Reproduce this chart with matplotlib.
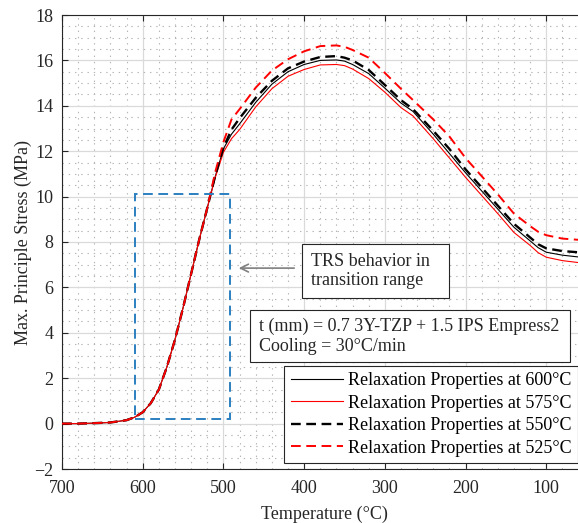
import matplotlib
matplotlib.use("Agg")
import matplotlib.pyplot as plt
from matplotlib.ticker import MultipleLocator
from matplotlib.patches import Rectangle

# temperature nodes (deg C), cooling from 700 down
temp = [700, 680, 660, 640, 620, 610, 600, 590, 580, 570, 560, 550, 540, 530,
        520, 510, 500, 490, 480, 460, 440, 420, 400, 380, 360, 350, 340, 320,
        300, 280, 265, 240, 220, 200, 180, 160, 140, 120, 110, 100, 80, 50]

# shared rise through the transition range (700 -> 520)
rise = [0.0, 0.0, 0.02, 0.05, 0.15, 0.28, 0.5, 0.9, 1.5, 2.5, 3.7, 5.1, 6.6, 8.1, 9.5]

stress_600 = rise + [10.9, 12.1, 12.75, 13.2, 14.15, 14.95, 15.5, 15.82, 16.0, 16.02,
                     15.97, 15.82, 15.42, 14.78, 14.12, 13.75, 12.75, 11.9, 11.05,
                     10.25, 9.45, 8.65, 8.05, 7.75, 7.55, 7.42, 7.3]
stress_575 = rise + [10.85, 11.95, 12.55, 12.95, 13.95, 14.75, 15.3, 15.6, 15.8, 15.82,
                     15.77, 15.62, 15.2, 14.6, 13.92, 13.55, 12.55, 11.7, 10.85,
                     10.05, 9.25, 8.42, 7.85, 7.53, 7.33, 7.18, 7.05]
stress_550 = rise + [10.95, 12.15, 12.95, 13.45, 14.35, 15.1, 15.65, 15.95, 16.15, 16.19,
                     16.12, 16.0, 15.58, 14.92, 14.25, 13.85, 12.9, 12.1, 11.2,
                     10.4, 9.6, 8.8, 8.2, 7.9, 7.72, 7.6, 7.52]
stress_525 = rise + [11.1, 12.4, 13.4, 13.85, 14.8, 15.55, 16.05, 16.4, 16.63, 16.66,
                     16.6, 16.46, 16.12, 15.45, 14.75, 14.25, 13.4, 12.65, 11.7,
                     10.9, 10.1, 9.25, 8.7, 8.45, 8.3, 8.15, 8.07]

labels = ["Relaxation Properties at 600°C", "Relaxation Properties at 575°C",
          "Relaxation Properties at 550°C", "Relaxation Properties at 525°C"]

x_ticks = [700, 600, 500, 400, 300, 200, 100]
y_ticks = [-2, 0, 2, 4, 6, 8, 10, 12, 14, 16, 18]

plt.rcParams["font.family"] = ["Liberation Serif", "DejaVu Serif"]
plt.rcParams["font.size"] = 13
plt.rcParams["lines.scale_dashes"] = False

axcol = "#262626"
fig = plt.figure(figsize=(5.78, 5.23), dpi=100)
ax = fig.add_axes([62 / 578, 1 - 469 / 523, 524.6 / 578, 454 / 523])

ax.plot(temp, stress_600, color="black", lw=0.8, label=labels[0], zorder=3)
ax.plot(temp, stress_575, color="red", lw=0.8, label=labels[1], zorder=3)
ax.plot(temp, stress_550, color="black", lw=1.7, dashes=(7, 4), label=labels[2], zorder=3)
ax.plot(temp, stress_525, color="red", lw=1.4, dashes=(7, 4), label=labels[3], zorder=3)

ax.set_xlim(700, 50)
ax.set_ylim(-2, 18)
ax.set_xticks(x_ticks)
ax.set_yticks(y_ticks)
ax.xaxis.set_minor_locator(MultipleLocator(20))
ax.yaxis.set_minor_locator(MultipleLocator(0.5))
ax.grid(True, which="major", color="#dadada", lw=0.9)
ax.grid(True, which="minor", color="#b5b5b5", lw=0.8, linestyle=(0, (1, 3.5)))
ax.set_axisbelow(True)
ax.tick_params(which="major", direction="in", top=True, right=True, length=4,
               width=0.8, color=axcol, labelcolor=axcol)
ax.tick_params(axis="x", pad=8)
ax.tick_params(axis="y", pad=6)
ax.tick_params(which="minor", length=0)
for s in ax.spines.values():
    s.set_color(axcol)
    s.set_linewidth(0.8)

ax.set_xlabel("Temperature (°C)", color=axcol, labelpad=6)
ax.set_ylabel("Max. Principle Stress (MPa)", color=axcol, labelpad=2)

# transition range box
ax.add_patch(Rectangle((609.5, 0.19), 491.8 - 609.5, 10.12 - 0.19, fill=False,
                       edgecolor="#2b7fc0", lw=1.4, linestyle=(0, (7, 4)), zorder=4))

# note box + arrow
ax.add_patch(Rectangle((402.6, 5.53), 220.4 - 402.6, 7.91 - 5.53, facecolor="white",
                       edgecolor=axcol, lw=0.8, zorder=5))
ax.text(391, 6.72, "TRS behavior in\ntransition range", ha="left", va="center",
        color=axcol, zorder=6, linespacing=1.2)
ax.annotate("", xy=(484.4, 6.85), xytext=(408.8, 6.85),
            arrowprops=dict(arrowstyle="->", color="#808080", lw=1.2,
                            mutation_scale=14), zorder=5)

ax.add_patch(Rectangle((467, 2.73), 50 - 467 + 20, 5.0 - 2.73, facecolor="white",
                       edgecolor=axcol, lw=0.8, zorder=5, clip_on=False))
ax.text(455.5, 3.85, "t (mm) = 0.7 3Y-TZP + 1.5 IPS Empress2\nCooling = 30°C/min",
        ha="left", va="center", color=axcol, zorder=6, linespacing=1.28)

leg = ax.legend(loc="upper left", bbox_to_anchor=((284.3 - 62) / 524.6, (469 - 366) / 454),
                borderaxespad=0, fancybox=False, framealpha=1, edgecolor=axcol,
                handlelength=2.9, handletextpad=0.3, labelspacing=0.3,
                borderpad=0.35)
leg.get_frame().set_linewidth(0.8)
leg.set_zorder(7)

plt.savefig("out.png", dpi=100)
plt.close()
